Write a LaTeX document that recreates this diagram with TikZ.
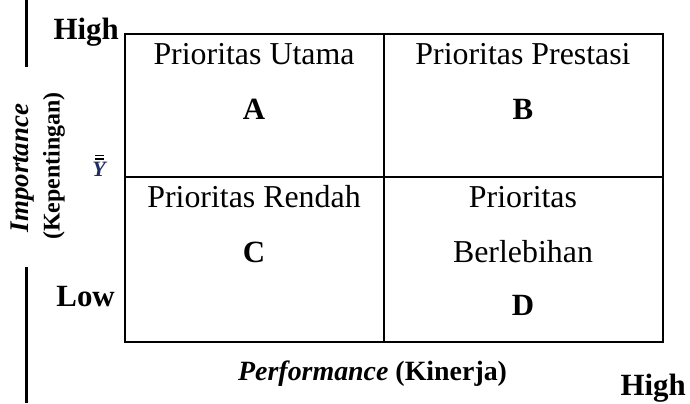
\documentclass[tikz,border=0pt]{standalone}
\usepackage{fontspec}
\setmainfont{Liberation Serif}
\definecolor{ybar}{rgb}{0.12,0.18,0.38}
\begin{document}
\begin{tikzpicture}[x=1bp,y=-1bp,
  grid/.style={line width=2bp},
  bar/.style={line width=3bp},
  celltxt/.style={anchor=base,inner sep=0,font=\fontsize{32}{38}\selectfont},
  letter/.style={anchor=base,inner sep=0,font=\fontsize{31}{36}\selectfont\bfseries},
  axislbl/.style={inner sep=0,font=\fontsize{31}{36}\selectfont\bfseries},
  ylbl/.style={inner sep=0,rotate=90,font=\fontsize{24}{28}\selectfont\bfseries}]
\useasboundingbox (0,0) rectangle (690,403);
% left bar
\coordinate (b1) at (26,0);
\coordinate (b2) at (26,67);
\coordinate (b3) at (26,267);
\coordinate (b4) at (26,403);
\draw[bar] (b1) -- (b2);
\draw[bar] (b3) -- (b4);
% grid
\coordinate (tl) at (125,34);
\coordinate (br) at (663,342);
\coordinate (tm) at (384,34);
\coordinate (bm) at (384,342);
\coordinate (ml) at (125,177);
\coordinate (mr) at (663,177);
\draw[grid] (tl) rectangle (br);
\draw[grid] (tm) -- (bm);
\draw[grid] (ml) -- (mr);
% cells
\node[celltxt] (pu) at (254,64) {Prioritas Utama};
\node[letter] (a) at (254,119) {A};
\node[celltxt] (pp) at (523,64) {Prioritas Prestasi};
\node[letter] (b) at (523,119) {B};
\node[celltxt] (pr) at (254,207) {Prioritas Rendah};
\node[letter] (c) at (254,262) {C};
\node[celltxt] (pb1) at (523,207) {Prioritas};
\node[celltxt] (pb2) at (523,262) {Berlebihan};
\node[letter] (d) at (523,315) {D};
% axis labels
\node[axislbl,anchor=base east] (hi) at (119,39) {High};
\node[axislbl,anchor=base east] (lo) at (115,306) {Low};
\node[axislbl,anchor=base east] (hi2) at (686,395) {High};
\node[ylbl,font=\fontsize{27}{30}\selectfont\bfseries\itshape] (imp) at (23,168) {Importance};
\node[ylbl] (kep) at (54,166) {(Kepentingan)};
\node[inner sep=0,anchor=base,text=ybar,font=\fontsize{22}{24}\selectfont\bfseries\itshape] (ybar) at (99,176) {Y};
\draw[ybar,line width=1.3bp] ([xshift=-4bp,yshift=2.5bp]ybar.north) -- ([xshift=5bp,yshift=2.5bp]ybar.north);
\draw[ybar,line width=1.3bp] ([xshift=-4bp,yshift=6bp]ybar.north) -- ([xshift=5bp,yshift=6bp]ybar.north);
\node[anchor=base west,inner sep=0,font=\fontsize{28}{32}\selectfont] (perf) at (238,380) {\textbf{\textit{Performance}} \textbf{(Kinerja)}};
\end{tikzpicture}
\end{document}
